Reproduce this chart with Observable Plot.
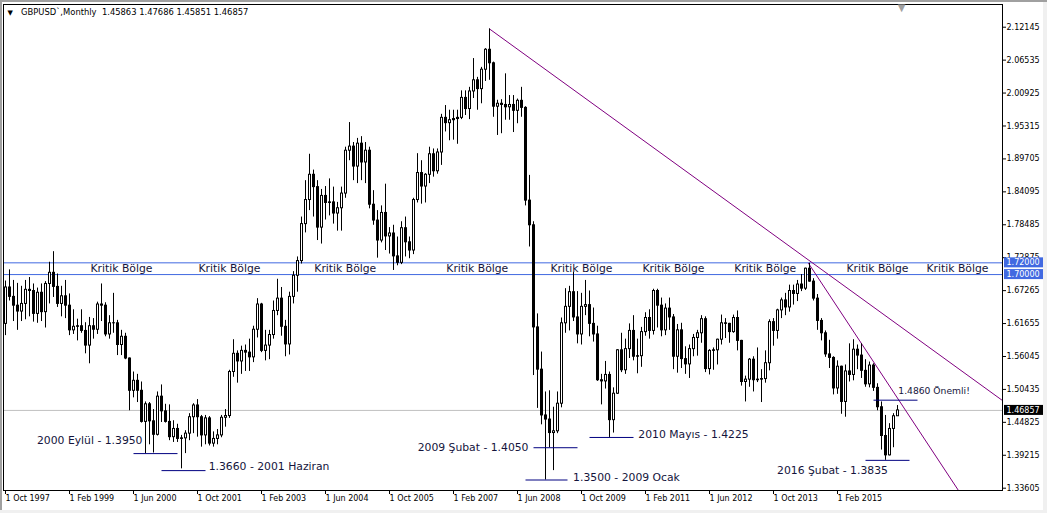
<!DOCTYPE html>
<html><head><meta charset="utf-8">
<script src="https://cdn.jsdelivr.net/npm/d3@7"></script>
<script src="https://cdn.jsdelivr.net/npm/@observablehq/plot@0.6"></script>
<style>
html,body{margin:0;padding:0;background:#fff;}
#wrap{position:relative;width:1047px;height:513px;overflow:hidden;background:#fff;}
.b{position:absolute;}
</style></head><body>
<div id="wrap"></div>
<script>
// ---- data: GBPUSD monthly, Oct 1997 .. May 2016 (index 0 = Oct 1997)
const symbol = "GBPUSD`";
const period = "Monthly";
const firstOpen = 1.616;
const closes = [
  1.678, 1.662, 1.647,
  1.637, 1.650, 1.674, 1.672, 1.633, 1.669, 1.636, 1.684, 1.703, 1.679, 1.650, 1.663,
  1.647, 1.605, 1.611, 1.612, 1.604, 1.579, 1.612, 1.606, 1.649, 1.647, 1.598, 1.617,
  1.617, 1.580, 1.594, 1.557, 1.502, 1.519, 1.502, 1.449, 1.479, 1.450, 1.427, 1.492,
  1.467, 1.449, 1.423, 1.437, 1.420, 1.421, 1.429, 1.457, 1.477, 1.457, 1.426, 1.455,
  1.412, 1.420, 1.426, 1.456, 1.459, 1.534, 1.565, 1.552, 1.570, 1.567, 1.559, 1.606,
  1.649, 1.570, 1.579, 1.597, 1.638, 1.659, 1.611, 1.581, 1.662, 1.698, 1.723, 1.786,
  1.827, 1.870, 1.849, 1.780, 1.834, 1.822, 1.823, 1.804, 1.813, 1.838, 1.911, 1.918,
  1.884, 1.923, 1.891, 1.911, 1.819, 1.792, 1.758, 1.805, 1.765, 1.770, 1.731, 1.720,
  1.779, 1.755, 1.741, 1.827, 1.873, 1.850, 1.870, 1.905, 1.876, 1.908, 1.967, 1.958,
  1.963, 1.965, 1.967, 2.001, 1.982, 2.012, 2.031, 2.016, 2.049, 2.083, 2.060, 1.986,
  1.991, 1.989, 1.985, 1.989, 1.979, 1.996, 1.984, 1.826, 1.784, 1.610, 1.538, 1.460,
  1.453, 1.430, 1.433, 1.480, 1.617, 1.645, 1.670, 1.627, 1.598, 1.645, 1.648, 1.616,
  1.598, 1.520, 1.518, 1.529, 1.452, 1.497, 1.571, 1.537, 1.573, 1.604, 1.560, 1.561,
  1.602, 1.626, 1.604, 1.672, 1.647, 1.605, 1.642, 1.627, 1.560, 1.605, 1.556, 1.547,
  1.573, 1.592, 1.600, 1.624, 1.539, 1.570, 1.571, 1.589, 1.617, 1.616, 1.602, 1.626,
  1.587, 1.517, 1.521, 1.555, 1.520, 1.521, 1.522, 1.549, 1.619, 1.604, 1.639, 1.656,
  1.644, 1.672, 1.667, 1.683, 1.676, 1.710, 1.688, 1.659, 1.621, 1.600, 1.564, 1.558,
  1.506, 1.543, 1.483, 1.535, 1.529, 1.572, 1.562, 1.536, 1.513, 1.545, 1.507, 1.474,
  1.425, 1.392, 1.437, 1.45863, 1.46857
];
const highs = [
  1.689, 1.708, 1.690,
  1.685, 1.680, 1.690, 1.695, 1.684, 1.677, 1.684, 1.688, 1.721, 1.739, 1.701, 1.680,
  1.690, 1.667, 1.640, 1.624, 1.640, 1.618, 1.627, 1.625, 1.653, 1.684, 1.652, 1.630,
  1.668, 1.622, 1.605, 1.600, 1.558, 1.534, 1.530, 1.517, 1.483, 1.482, 1.470, 1.500,
  1.512, 1.479, 1.478, 1.451, 1.445, 1.426, 1.434, 1.463, 1.480, 1.487, 1.460, 1.460,
  1.458, 1.432, 1.436, 1.460, 1.470, 1.537, 1.589, 1.570, 1.578, 1.580, 1.590, 1.612,
  1.659, 1.651, 1.605, 1.605, 1.655, 1.692, 1.678, 1.622, 1.670, 1.705, 1.730, 1.798,
  1.860, 1.905, 1.878, 1.860, 1.845, 1.850, 1.863, 1.849, 1.823, 1.849, 1.917, 1.959,
  1.925, 1.932, 1.935, 1.925, 1.917, 1.843, 1.809, 1.817, 1.854, 1.780, 1.784, 1.764,
  1.790, 1.798, 1.764, 1.830, 1.906, 1.894, 1.872, 1.917, 1.914, 1.914, 1.973, 1.988,
  1.980, 1.980, 1.980, 2.013, 2.013, 2.019, 2.068, 2.036, 2.053, 2.085, 2.1185, 2.062,
  1.997, 1.998, 2.042, 2.005, 2.005, 1.999, 2.019, 1.986, 1.869, 1.790, 1.633, 1.568,
  1.500, 1.502, 1.474, 1.500, 1.626, 1.676, 1.680, 1.704, 1.671, 1.668, 1.690, 1.672,
  1.643, 1.612, 1.530, 1.552, 1.534, 1.507, 1.572, 1.600, 1.590, 1.616, 1.630, 1.590,
  1.610, 1.635, 1.640, 1.675, 1.675, 1.660, 1.650, 1.660, 1.632, 1.615, 1.617, 1.577,
  1.580, 1.598, 1.605, 1.630, 1.628, 1.572, 1.575, 1.590, 1.631, 1.625, 1.617, 1.631,
  1.638, 1.588, 1.527, 1.557, 1.560, 1.575, 1.538, 1.570, 1.623, 1.625, 1.641, 1.660,
  1.668, 1.682, 1.682, 1.690, 1.700, 1.711, 1.7192, 1.693, 1.666, 1.625, 1.604, 1.588,
  1.560, 1.553, 1.544, 1.546, 1.582, 1.589, 1.580, 1.582, 1.555, 1.551, 1.548, 1.514,
  1.483, 1.460, 1.446, 1.463, 1.47686
];
const lows = [
  1.596, 1.655, 1.620,
  1.605, 1.620, 1.623, 1.628, 1.619, 1.617, 1.620, 1.609, 1.650, 1.661, 1.644, 1.628,
  1.625, 1.596, 1.598, 1.587, 1.600, 1.565, 1.548, 1.590, 1.598, 1.620, 1.594, 1.590,
  1.600, 1.562, 1.562, 1.555, 1.468, 1.490, 1.482, 1.447, 1.395, 1.410, 1.396, 1.425,
  1.448, 1.447, 1.417, 1.414, 1.414, 1.369, 1.395, 1.417, 1.429, 1.423, 1.406, 1.410,
  1.408, 1.406, 1.410, 1.422, 1.440, 1.455, 1.525, 1.515, 1.530, 1.535, 1.535, 1.550,
  1.592, 1.567, 1.553, 1.555, 1.590, 1.630, 1.595, 1.560, 1.563, 1.650, 1.670, 1.718,
  1.771, 1.809, 1.798, 1.758, 1.752, 1.793, 1.800, 1.786, 1.774, 1.774, 1.830, 1.894,
  1.860, 1.855, 1.860, 1.855, 1.812, 1.784, 1.728, 1.754, 1.741, 1.735, 1.707, 1.715,
  1.717, 1.730, 1.727, 1.734, 1.822, 1.820, 1.822, 1.855, 1.866, 1.871, 1.886, 1.943,
  1.928, 1.929, 1.922, 1.964, 1.971, 1.964, 2.000, 1.980, 1.991, 2.029, 2.031, 1.968,
  1.937, 1.940, 1.963, 1.963, 1.942, 1.957, 1.968, 1.817, 1.747, 1.528, 1.472, 1.444,
  1.350, 1.405, 1.366, 1.429, 1.473, 1.600, 1.604, 1.620, 1.582, 1.580, 1.630, 1.594,
  1.585, 1.518, 1.478, 1.505, 1.4225, 1.430, 1.496, 1.533, 1.530, 1.557, 1.553, 1.531,
  1.542, 1.595, 1.590, 1.597, 1.609, 1.594, 1.596, 1.605, 1.538, 1.532, 1.540, 1.530,
  1.523, 1.560, 1.561, 1.583, 1.533, 1.529, 1.537, 1.546, 1.580, 1.591, 1.583, 1.600,
  1.570, 1.510, 1.483, 1.508, 1.500, 1.516, 1.482, 1.515, 1.536, 1.578, 1.590, 1.625,
  1.630, 1.636, 1.648, 1.654, 1.671, 1.673, 1.687, 1.655, 1.605, 1.587, 1.559, 1.540,
  1.495, 1.496, 1.462, 1.457, 1.517, 1.519, 1.538, 1.523, 1.508, 1.507, 1.501, 1.468,
  1.401, 1.3835, 1.391, 1.405, 1.45851
];

// axis ticks
const yTicks = [1.33605, 1.39215, 1.44825, 1.50435, 1.56045, 1.61655, 1.67265, 1.72875,
                1.78485, 1.84095, 1.89705, 1.95315, 2.00925, 2.06535, 2.12145];
const xTickIdx = [0, 16, 32, 48, 64, 80, 96, 112, 128, 144, 160, 176, 192, 208];
const xTickLabels = ["1 Oct 1997", "1 Feb 1999", "1 Jun 2000", "1 Oct 2001", "1 Feb 2003", "1 Jun 2004",
                     "1 Oct 2005", "1 Feb 2007", "1 Jun 2008", "1 Oct 2009", "1 Feb 2011", "1 Jun 2012",
                     "1 Oct 2013", "1 Feb 2015"];

// horizontal levels ("Kritik Bölge")
const zoneLevels = [1.72, 1.70];
const zoneLabel = "Kritik Bölge";
const zoneLabelIdx = [21.25, 48.25, 77.2, 110.2, 136.25, 159.25, 182.2, 210.25, 230.25];

// trend lines (time index, price)
const trend1Idx = [121, 249.25], trend1Price = [2.1185, 1.4854];
const trend2Idx = [200.75, 238.25], trend2Price = [1.7192, 1.3321];

// annotation segments
const segStart = [32, 39, 130, 132, 146, 215, 217];
const segEnd   = [43, 50, 140.5, 143, 157, 226, 228];
const segPrice = [1.395, 1.366, 1.35, 1.405, 1.4225, 1.3835, 1.486];

// annotation texts
const noteText   = ["2000 Eylül - 1.3950", "1.3660 - 2001 Haziran", "2009 Şubat - 1.4050", "1.3500 - 2009 Ocak",
                    "2010 Mayıs - 1.4225", "2016 Şubat - 1.3835", "1.4860 Önemli!"];
const noteIdx    = [34.25, 50.8, 130.75, 141.9, 158.2, 220.6, 223.2];
const notePrice  = [1.4172, 1.3730, 1.405, 1.3537, 1.4275, 1.3661, 1.5012];
const noteAnchor = ["end", "start", "end", "start", "start", "end", "start"];
const noteSize   = [10.8, 10.8, 10.8, 10.8, 10.8, 10.8, 9.2];

// ---- build tables
const candles = closes.map((c, i) => {
  const o = i ? closes[i - 1] : firstOpen;
  return {i, open: o, close: c, high: Math.max(highs[i], o, c), low: Math.min(lows[i], o, c),
          top: Math.max(o, c), bot: Math.min(o, c), up: c >= o};
});
const last = candles[candles.length - 1];
const pricePerPx = (2.16013 - 1.33213) / (513 - 23 - 4);
const hollow = candles.filter(d => d.up && (d.top - d.bot) > 1.6 * pricePerPx);
const trendPts = [
  ...trend1Idx.map((x, k) => ({id: 1, i: x, p: trend1Price[k]})),
  ...trend2Idx.map((x, k) => ({id: 2, i: x, p: trend2Price[k]}))
];
const segs = segStart.map((s, k) => ({s, e: segEnd[k], p: segPrice[k]}));
const notes = noteText.map((t, k) => ({t, i: noteIdx[k], p: notePrice[k], a: noteAnchor[k], fs: noteSize[k]}));
const zoneTexts = zoneLabelIdx.map(i => ({i, p: (zoneLevels[0] + zoneLevels[1]) / 2}));
const boxes = [
  ...zoneLevels.map(v => ({v, bg: "#4169e1"})),
  {v: last.close, bg: "#000000"}
];
const tickLabelMap = new Map(xTickIdx.map((d, k) => [d, xTickLabels[k]]));
const header = `${symbol},${period}  ${last.open.toFixed(5)} ${last.high.toFixed(5)} ${last.low.toFixed(5)} ${last.close.toFixed(5)}`;

const FONT = "'DejaVu Sans', sans-serif";
const noteColor = "#14143c";
const noteMarks = ["start", "end"].map(a => Plot.text(notes.filter(d => d.a === a), {
  x: "i", y: "p", text: "t", textAnchor: a, lineAnchor: "middle",
  fontFamily: FONT, fontSize: d => d.fs, fill: noteColor
}));

const chart = Plot.plot({
  width: 1047, height: 513,
  marginLeft: 3, marginRight: 45, marginTop: 4, marginBottom: 23,
  style: {background: "white", fontFamily: FONT, fontSize: "8px", color: "black", overflow: "visible"},
  x: {type: "linear", domain: [-0.5, 249.25]},
  y: {type: "linear", domain: [1.33213, 2.16013]},
  marks: [
    Plot.ruleY([last.close], {stroke: "#c0c0c0"}),
    Plot.ruleY(zoneLevels, {stroke: "#4169e1"}),
    Plot.line(trendPts, {x: "i", y: "p", z: "id", stroke: "#800080", strokeWidth: 1}),
    // wicks
    Plot.ruleX(candles, {x: "i", y1: "high", y2: "low", stroke: "black", strokeWidth: 1}),
    // bodies: black block, then white inside for rising candles
    Plot.ruleX(candles, {x: "i", y1: "top", y2: "bot", stroke: "black", strokeWidth: 3,
      insetTop: -0.5, insetBottom: -0.5, strokeLinecap: "butt"}),
    Plot.ruleX(hollow, {x: "i", y1: "top", y2: "bot", stroke: "white", strokeWidth: 1,
      insetTop: 0.5, insetBottom: 0.5, strokeLinecap: "butt"}),
    Plot.link(segs, {x1: "s", x2: "e", y1: "p", y2: "p", stroke: "#000080", strokeWidth: 1}),
    Plot.text(zoneTexts, {x: "i", y: "p", text: () => zoneLabel, textAnchor: "start", lineAnchor: "middle",
      fontFamily: FONT, fontSize: 10.8, fill: noteColor}),
    ...noteMarks,
    Plot.frame({stroke: "black"}),
    Plot.axisY({ticks: yTicks, anchor: "right", tickSize: 3, tickPadding: 1, tickFormat: d => d.toFixed(5),
      fontSize: 8, fontFamily: FONT, label: null}),
    Plot.axisX({ticks: xTickIdx, anchor: "bottom", tickSize: 4, tickPadding: 1, textAnchor: "start",
      tickFormat: d => tickLabelMap.get(d), fontSize: 8, fontFamily: FONT, label: null}),
    Plot.rect(boxes, {y1: "v", y2: "v", insetTop: -5, insetBottom: -5, insetLeft: 1001, insetRight: -42, fill: "bg"}),
    Plot.text(boxes, {y: "v", text: d => d.v.toFixed(5), frameAnchor: "right", textAnchor: "start", dx: 4,
      fill: "white", fontSize: 8, fontFamily: FONT}),
    Plot.text([header], {frameAnchor: "top-left", dx: 17.5, dy: 5, fontSize: 8.4, fontFamily: FONT, fill: "black"}),
    Plot.text(["▼"], {frameAnchor: "top-left", dx: 4, dy: 6, fontSize: 7, fontFamily: FONT, fill: "black"}),
    Plot.text([candles.length], {x: d => d, text: () => "▼", frameAnchor: "top", lineAnchor: "top", dy: -1,
      fontSize: 10, fontFamily: FONT, fill: "#a0a0a0"})
  ]
});
const wrap = document.getElementById("wrap");
wrap.appendChild(chart);
// window border
[["left:0;top:0;width:1047px;height:2px;background:#a0a0a0"],
 ["left:0;top:0;width:2px;height:513px;background:#a0a0a0"],
 ["left:1043px;top:2px;width:4px;height:511px;background:#f0f0f0"],
 ["left:0;top:510px;width:1047px;height:3px;background:#f0f0f0"]].forEach(([s]) => {
  const d = document.createElement("div"); d.className = "b"; d.style.cssText = s; wrap.appendChild(d);
});
</script></body></html>
